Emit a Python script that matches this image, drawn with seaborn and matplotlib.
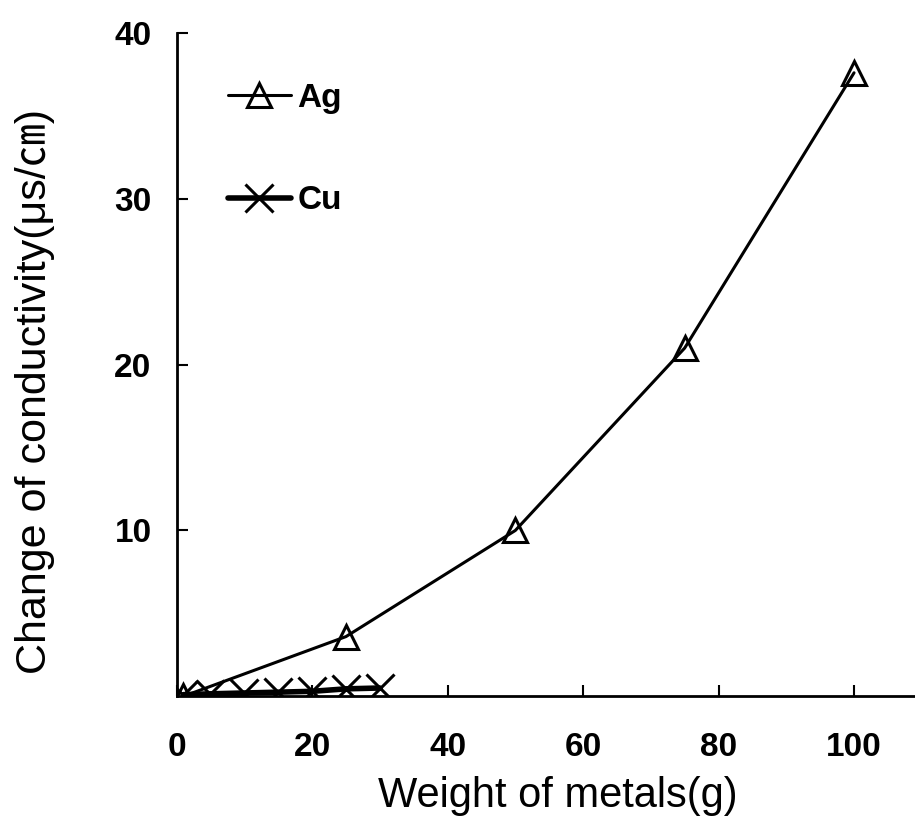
import pandas as pd
import matplotlib.pyplot as plt
import seaborn as sns

# Datos
ag_weight = [1, 25, 50, 75, 100]
ag_cond = [0.0, 3.6, 10.0, 21.0, 37.6]
cu_weight = [1, 5, 10, 15, 20, 25, 30]
cu_cond = [0.1, 0.15, 0.2, 0.25, 0.3, 0.45, 0.5]

sns.set_style('ticks', {'text.color': 'black', 'axes.labelcolor': 'black',
                        'xtick.color': 'black', 'ytick.color': 'black',
                        'axes.edgecolor': 'black'})
plt.rcParams['font.family'] = ['Liberation Sans', 'Noto Sans CJK JP', 'DejaVu Sans']

fig = plt.figure(figsize=(9.15, 8.25), dpi=100)
ax = fig.add_axes([0.193, 0.156, 0.807, 0.804])

ag = pd.DataFrame({'w': ag_weight, 'c': ag_cond})
cu = pd.DataFrame({'w': cu_weight, 'c': cu_cond})

sns.lineplot(data=ag, x='w', y='c', ax=ax, color='black', lw=2.2, marker='^',
             markersize=17, markerfacecolor='none', markeredgecolor='black',
             markeredgewidth=2.2, label='Ag')
sns.lineplot(data=cu, x='w', y='c', ax=ax, color='black', lw=4, marker='x',
             markersize=20, markeredgecolor='black', markeredgewidth=2.2, label='Cu')

ax.set_xlim(0, 109)
ax.set_ylim(0, 40)
ax.set_xticks([0, 20, 40, 60, 80, 100])
ax.set_yticks([10, 20, 30, 40])
ax.tick_params(direction='in', length=8, width=1.5, labelsize=24, colors='black')
ax.tick_params(axis='x', pad=26)
ax.tick_params(axis='y', pad=18)
for lab in ax.get_xticklabels() + ax.get_yticklabels():
    lab.set_fontweight('bold')
ax.spines['top'].set_visible(False)
ax.spines['right'].set_visible(False)
for s in ['left', 'bottom']:
    ax.spines[s].set_linewidth(2)
    ax.spines[s].set_color('black')

ax.set_xlabel('Weight of metals(g)', fontsize=30, color='black')
ax.set_ylabel('Change of conductivity(μs/㎝)', fontsize=31, color='black')
ax.xaxis.set_label_coords(0.516, -0.12)
ax.yaxis.set_label_coords(-0.165, 0.459)

ax.legend(loc='upper left', bbox_to_anchor=(0.069, 0.925), frameon=False,
          labelspacing=2.15, handlelength=1.9, handletextpad=0.2,
          borderpad=0, borderaxespad=0,
          prop={'weight': 'bold', 'size': 24})

plt.savefig('out.png', dpi=100)
